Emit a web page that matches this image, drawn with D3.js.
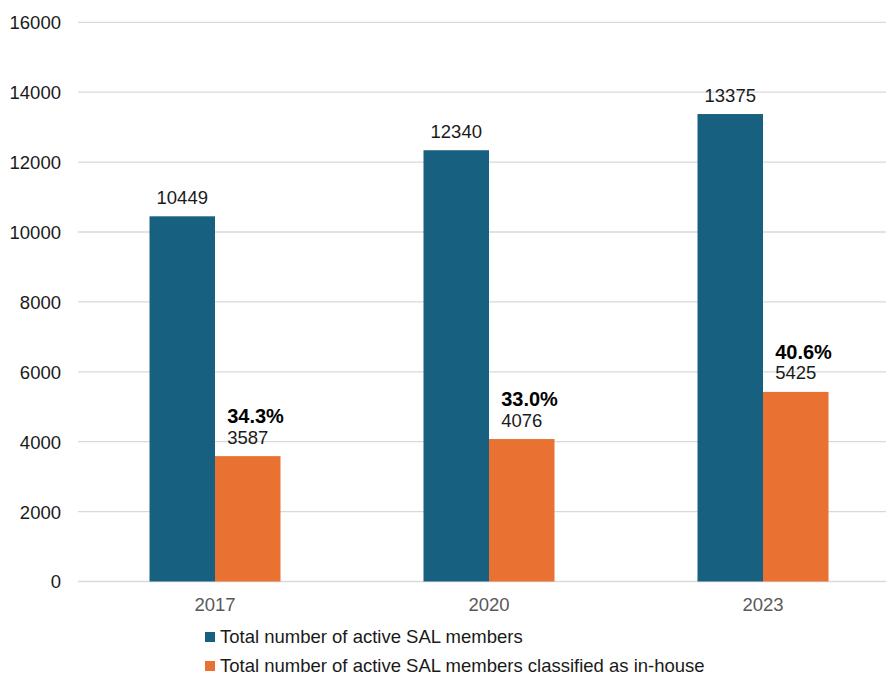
<!DOCTYPE html>
<html>
<head>
<meta charset="utf-8">
<script src="https://cdn.jsdelivr.net/npm/d3@7"></script>
<style>
  html, body { margin: 0; padding: 0; background: #fff; }
  svg { display: block; font-family: Arial, "Liberation Sans", sans-serif; }
</style>
</head>
<body>
<svg id="chart" width="886" height="677"></svg>
<script>
// Active SAL members by survey year
const years = ["2017", "2020", "2023"];
const totalMembers = [10449, 12340, 13375];
const inHouseMembers = [3587, 4076, 5425];
const inHouseShare = ["34.3%", "33.0%", "40.6%"];
const seriesNames = [
  "Total number of active SAL members",
  "Total number of active SAL members classified as in-house"
];
const seriesColors = ["#17607F", "#E97132"];
const yTicks = [0, 2000, 4000, 6000, 8000, 10000, 12000, 14000, 16000];

const svg = d3.select("#chart");
const plot = { left: 78, right: 900, top: 22.3, bottom: 581.5 };

const x = d3.scaleBand().domain(years).range([plot.left, plot.right]).paddingInner(0).paddingOuter(0);
const y = d3.scaleLinear().domain([0, 16000]).range([plot.bottom, plot.top]);
const barW = 65.5;

// gridlines
svg.append("g").selectAll("line").data(yTicks).join("line")
  .attr("x1", plot.left).attr("x2", plot.right)
  .attr("y1", d => y(d)).attr("y2", d => y(d))
  .attr("stroke", "#D9D9D9").attr("stroke-width", 1.3);

// y axis labels
const yAxis = d3.axisLeft(y).tickValues(yTicks).tickSize(0).tickPadding(0).tickFormat(d3.format("d"));
const yg = svg.append("g").attr("transform", `translate(61,0)`).call(yAxis);
yg.select(".domain").remove();
yg.selectAll("text").attr("font-size", 18.5).attr("fill", "#1a1a1a")
  .attr("font-family", "Arial, 'Liberation Sans', sans-serif").attr("dy", "0.35em");

// x axis labels
const xAxis = d3.axisBottom(x).tickSize(0).tickPadding(0);
const xg = svg.append("g").attr("transform", `translate(0,${plot.bottom})`).call(xAxis);
xg.select(".domain").remove();
xg.selectAll("text").attr("font-size", 18.5).attr("fill", "#595959")
  .attr("font-family", "Arial, 'Liberation Sans', sans-serif").attr("dy", "1.6em");

const rows = years.map((yr, i) => ({ yr, total: totalMembers[i], inHouse: inHouseMembers[i], share: inHouseShare[i] }));
const center = d => x(d.yr) + x.bandwidth() / 2;

// total bars
svg.append("g").selectAll("rect").data(rows).join("rect")
  .attr("x", d => center(d) - barW).attr("width", barW)
  .attr("y", d => y(d.total)).attr("height", d => y(0) - y(d.total))
  .attr("fill", seriesColors[0]);

// in-house bars
svg.append("g").selectAll("rect").data(rows).join("rect")
  .attr("x", d => center(d)).attr("width", barW)
  .attr("y", d => y(d.inHouse)).attr("height", d => y(0) - y(d.inHouse))
  .attr("fill", seriesColors[1]);

// value labels
svg.append("g").selectAll("text").data(rows).join("text")
  .attr("x", d => center(d) - barW / 2).attr("y", d => y(d.total) - 12)
  .attr("text-anchor", "middle").attr("font-size", 18.5).attr("fill", "#1a1a1a")
  .text(d => d.total);

const inLabels = svg.append("g").selectAll("g").data(rows).join("g");
inLabels.append("text")
  .attr("x", d => center(d) + barW / 2).attr("y", d => y(d.inHouse) - 12.5)
  .attr("text-anchor", "middle").attr("font-size", 18.5).attr("fill", "#1a1a1a")
  .text(d => d.inHouse)
  .each(function (d) { d.labelLeft = center(d) + barW / 2 - this.getComputedTextLength() / 2; });
inLabels.append("text")
  .attr("x", d => d.labelLeft).attr("y", d => y(d.inHouse) - 33)
  .attr("text-anchor", "start").attr("font-size", 20).attr("font-weight", "bold").attr("fill", "#000")
  .text(d => d.share);

// legend
const legend = svg.append("g").selectAll("g").data(seriesNames).join("g")
  .attr("transform", (d, i) => `translate(205,${637 + i * 29})`);
legend.append("rect").attr("x", 0).attr("y", -5).attr("width", 10).attr("height", 10)
  .attr("fill", (d, i) => seriesColors[i]);
legend.append("text").attr("x", 15).attr("y", 0).attr("dy", "0.34em")
  .attr("font-size", 18.5).attr("fill", "#1a1a1a").text(d => d);
</script>
</body>
</html>
